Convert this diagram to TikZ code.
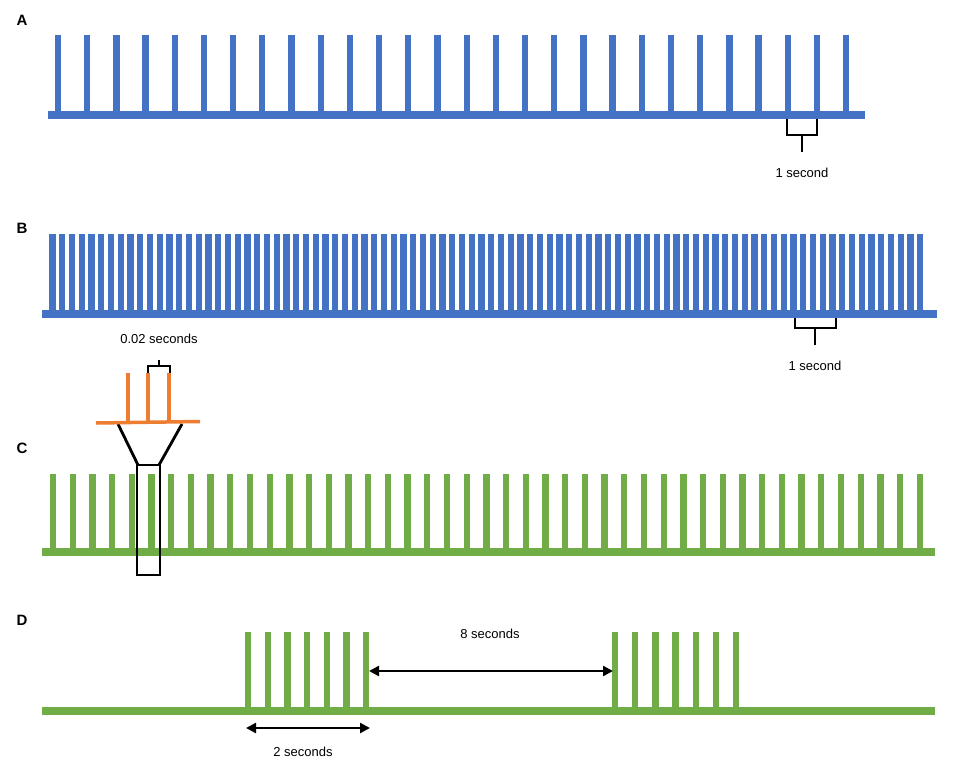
\documentclass[tikz,border=0pt]{standalone}
\usepackage{fontspec}
\setmainfont{Liberation Sans}
\usetikzlibrary{arrows.meta}

\definecolor{spikeblue}{HTML}{4472C4}
\definecolor{spikegreen}{HTML}{70AD47}
\definecolor{spikeorange}{HTML}{ED7D31}

\tikzset{
	panel/.style={font=\fontsize{15}{17}\selectfont\bfseries},
	label/.style={font=\fontsize{13}{15}\selectfont},
	baseline/.style={line width=8.5pt},
	spike/.style={line width=6.3pt},
	bracket/.style={black, line width=2.8pt},
	span/.style={black, line width=2.4pt, {Triangle[length=10pt,width=10pt]}-{Triangle[length=10pt,width=10pt]}}
}

\begin{document}
\begin{tikzpicture}[x=1pt, y=-1pt]
	\useasboundingbox (0,0) rectangle (957,776);

	% A: one pulse per second
	\node[panel] (A) at (22,20) {A};
	\draw[baseline, spikeblue] (48,115) -- (865,115);
	\foreach \k in {0,...,27}
		\draw[spike, spikeblue] (58+29.19*\k,35) -- (58+29.19*\k,115);
	\draw[bracket] (787,119) -- (787,135) -- (817,135) -- (817,119);
	\draw[bracket] (802,135) -- (802,152);
	\node[label] (secA) at (802,173) {1 second};

	% B: fast train
	\node[panel] (B) at (22,228) {B};
	\draw[baseline, spikeblue] (42,314) -- (937,314);
	\foreach \k in {0,...,89}
		\draw[spike, spikeblue] (52.5+9.75*\k,234) -- (52.5+9.75*\k,314);
	\draw[bracket] (795,318) -- (795,328) -- (836,328) -- (836,318);
	\draw[bracket] (815,328) -- (815,345);
	\node[label] (secB) at (815,366) {1 second};

	% C: continuous train with zoom
	\node[panel] (C) at (22,448) {C};
	\draw[baseline, spikegreen] (42,552) -- (935,552);
	\foreach \k in {0,...,44}
		\draw[spike, spikegreen] (53+19.7*\k,474) -- (53+19.7*\k,552);

	\coordinate (zoomL) at (118,424);
	\coordinate (zoomR) at (182,424);
	\draw[bracket] (137,465) rectangle (160,575);
	\draw[bracket] (zoomL) -- (138,465);
	\draw[bracket] (zoomR) -- (159,465);
	\draw[spikeorange, line width=3.5pt] (96,423) -- (200,421.5);
	\foreach \x in {128,148,169}
		\draw[spikeorange, line width=3.5pt] (\x,422) -- (\x,373);
	\draw[bracket, line width=2.4pt] (148,373) -- (148,366) -- (170,366) -- (170,373);
	\draw[bracket, line width=2.4pt] (159,366) -- (159,360);
	\node[label] (msC) at (159,339) {0.02 seconds};

	% D: bursts
	\node[panel] (D) at (22,620) {D};
	\draw[baseline, spikegreen] (42,711) -- (935,711);
	\foreach \k in {0,...,6} {
		\draw[spike, spikegreen] (248+19.7*\k,632) -- (248+19.7*\k,711);
		\draw[spike, spikegreen] (615+20.2*\k,632) -- (615+20.2*\k,711);
	}
	\coordinate (gapL) at (369,671);
	\coordinate (gapR) at (613,671);
	\draw[span] (gapL) -- (gapR);
	\node[label] (gapD) at (490,634) {8 seconds};
	\coordinate (burstL) at (246,728);
	\coordinate (burstR) at (370,728);
	\draw[span] (burstL) -- (burstR);
	\node[label] (burstD) at (303,752) {2 seconds};
\end{tikzpicture}
\end{document}
